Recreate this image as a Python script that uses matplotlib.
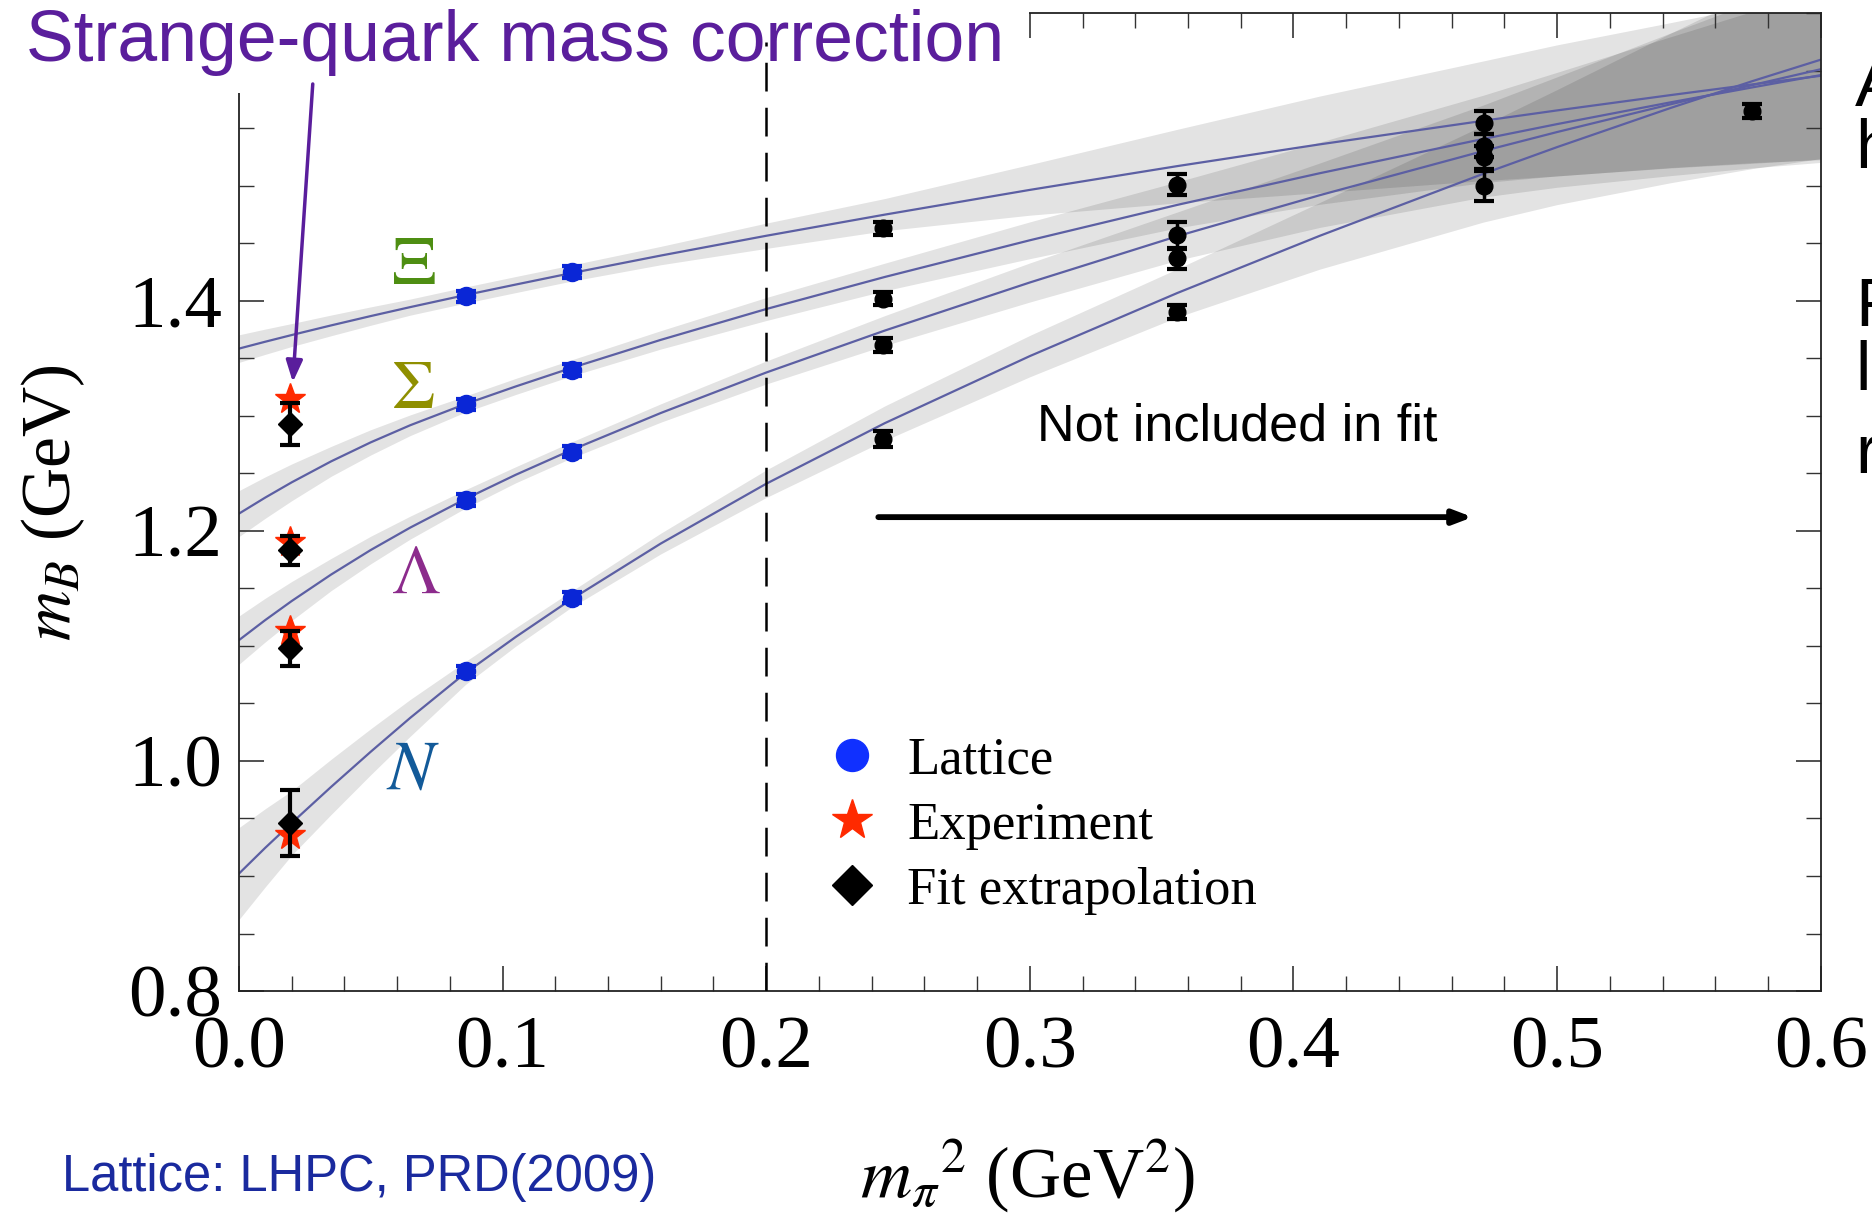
import numpy as np
import matplotlib.pyplot as plt
from matplotlib.lines import Line2D
from matplotlib.patches import Rectangle

# ---- data ----
# lattice points used in the fit (m_pi^2 in GeV^2, masses in GeV)
lat_x = [0.086, 0.1263]
xi_lat = [1.404, 1.425]
sigma_lat = [1.310, 1.340]
lambda_lat = [1.227, 1.269]
n_lat = [1.078, 1.142]
lat_err = [0.005, 0.005]

# heavier lattice points, not included in fit
heavy_x = [0.2445, 0.2445, 0.2445, 0.2445,
           0.356, 0.356, 0.356, 0.356,
           0.4723, 0.4723, 0.4723, 0.4723,
           0.574]
heavy_y = [1.463, 1.402, 1.362, 1.280,
           1.501, 1.457, 1.437, 1.390,
           1.555, 1.535, 1.525, 1.500,
           1.565]
heavy_err = [0.006, 0.006, 0.006, 0.007,
             0.009, 0.012, 0.009, 0.006,
             0.010, 0.010, 0.010, 0.013,
             0.006]

# physical point: experiment vs extrapolation (Xi, Sigma, Lambda, N)
phys_x = 0.0195
exp_y = [1.315, 1.190, 1.113, 0.936]
extrap_y = [1.293, 1.183, 1.098, 0.946]
extrap_err = [0.018, 0.013, 0.015, 0.029]

# fit curves and their error bands (half widths)
fit_x = [0.0, 0.01, 0.02, 0.035, 0.05, 0.065, 0.086, 0.105, 0.126, 0.16,
         0.2, 0.245, 0.3, 0.356, 0.41, 0.472, 0.5, 0.543, 0.574, 0.6]
xi_fit = [1.3585, 1.3645, 1.3703, 1.3787, 1.3868, 1.3946, 1.4051, 1.4142, 1.4241, 1.4394,
          1.4566, 1.4750, 1.4965, 1.5172, 1.5361, 1.5566, 1.5656, 1.5789, 1.5882, 1.5957]
sigma_fit = [1.215, 1.229, 1.2422, 1.2605, 1.277, 1.2919, 1.3104, 1.3256, 1.3416, 1.3661,
             1.3929, 1.4208, 1.4527, 1.4835, 1.511, 1.5408, 1.5537, 1.5726, 1.5856, 1.5963]
lambda_fit = [1.105, 1.1225, 1.139, 1.1621, 1.1834, 1.2029, 1.2279, 1.2488, 1.2702, 1.3025,
              1.3377, 1.3742, 1.416, 1.4563, 1.4919, 1.5303, 1.5468, 1.5709, 1.5876, 1.6014]
n_fit = [0.902, 0.9245, 0.946, 0.9775, 1.008, 1.0375, 1.0766, 1.1078, 1.1404, 1.189,
         1.241, 1.2937, 1.352, 1.4069, 1.4566, 1.5105, 1.5337, 1.5677, 1.591, 1.6097]

xi_band = [0.012, 0.011, 0.010, 0.009, 0.008, 0.007, 0.007, 0.007, 0.007, 0.008,
           0.011, 0.014, 0.022, 0.032, 0.042, 0.052, 0.057, 0.063, 0.068, 0.073]
sigma_band = [0.020, 0.018, 0.016, 0.013, 0.011, 0.009, 0.007, 0.007, 0.007, 0.008,
              0.010, 0.012, 0.016, 0.020, 0.027, 0.038, 0.045, 0.057, 0.066, 0.073]
lambda_band = [0.021, 0.019, 0.017, 0.014, 0.012, 0.010, 0.008, 0.007, 0.007, 0.008,
               0.010, 0.013, 0.017, 0.021, 0.028, 0.040, 0.048, 0.062, 0.072, 0.081]
n_band = [0.040, 0.034, 0.028, 0.024, 0.020, 0.016, 0.010, 0.008, 0.007, 0.009,
          0.012, 0.015, 0.018, 0.021, 0.029, 0.042, 0.050, 0.065, 0.076, 0.086]

serif = 'Liberation Serif'
sans = 'Liberation Sans'
line_col = '#5c5fa3'
plt.rcParams['mathtext.fontset'] = 'stix'

fig = plt.figure(figsize=(18.72, 12.13), dpi=100)
ax = fig.add_axes([0.1276, 0.183, 0.845, 0.806])

fx = np.array(fit_x)
for yy, bb in [(xi_fit, xi_band), (sigma_fit, sigma_band),
               (lambda_fit, lambda_band), (n_fit, n_band)]:
    yy = np.array(yy)
    bb = np.array(bb)
    ax.fill_between(fx, yy - bb, yy + bb, color='black', alpha=0.11, lw=0, zorder=1)
    ax.plot(fx, yy, color=line_col, lw=1.6, zorder=2)

# dashed fit cut (drawn over the title box, as on the slide)
ax.axvline(0.2, ymin=0, ymax=(1.625 - 0.8) / 0.85, color='black', lw=1.8,
           ls=(0, (11.5, 6.5)), zorder=9)

# fit lattice points
for yy in [xi_lat, sigma_lat, lambda_lat, n_lat]:
    ax.errorbar(lat_x, yy, yerr=lat_err, fmt='o', color='#0a26d6', ms=13,
                capsize=7, capthick=3, elinewidth=2.5, zorder=4)

# heavy points
ax.errorbar(heavy_x, heavy_y, yerr=heavy_err, fmt='o', color='black', ms=12,
            capsize=7, capthick=3, elinewidth=2.5, zorder=4)

# experiment and extrapolation
ax.plot([phys_x] * 4, exp_y, ls='none', marker='*', color='#ff2a00', ms=23, zorder=4)
ax.errorbar([phys_x] * 4, extrap_y, yerr=extrap_err, fmt='D', color='black', ms=12.5,
            capsize=7.5, capthick=3, elinewidth=3, zorder=5)

# baryon labels
ax.text(0.066, 1.4315, r'$\Xi$', color='#4e8e12', fontsize=50, ha='center', va='center')
ax.text(0.066, 1.324, r'$\Sigma$', color='#8f8f00', fontsize=50, ha='center', va='center')
ax.text(0.067, 1.163, r'$\Lambda$', color='#8c2b8c', fontsize=50, ha='center', va='center')
ax.text(0.066, 0.993, r'$N$', color='#125a99', fontsize=50, ha='center', va='center')

# not included in fit
ax.text(0.3786, 1.290, 'Not included in fit', fontsize=37.5, family=sans, ha='center', va='center')
ax.annotate('', xy=(0.469, 1.212), xytext=(0.2415, 1.212),
            arrowprops=dict(arrowstyle='-|>,head_length=1.1,head_width=0.42', color='black', lw=4.2))

# strange-quark arrow and title with white box over the frame corner
ax.add_patch(Rectangle((0, 1 - 93 / 1213), 1029 / 1872, 93 / 1213, transform=fig.transFigure,
                       facecolor='white', edgecolor='none', clip_on=False, zorder=8))
ax.text(26 / 1872, 1 - 43 / 1213, 'Strange-quark mass correction', transform=fig.transFigure,
        color='#5a1e9c', fontsize=51.5, family=sans, ha='left', va='center', zorder=9)
ax.annotate('', xy=(0.0204, 1.327), xytext=(0.0281, 1.591),
            arrowprops=dict(arrowstyle='-|>,head_length=1.3,head_width=0.5', color='#5a1e9c', lw=2.5),
            zorder=9, annotation_clip=False)

# legend
handles = [Line2D([], [], ls='none', marker='o', color='#1030ff', ms=23),
           Line2D([], [], ls='none', marker='*', color='#ff2a00', ms=30),
           Line2D([], [], ls='none', marker='D', color='black', ms=20)]
ax.legend(handles, ['Lattice', 'Experiment', 'Fit extrapolation'], loc='upper left',
          bbox_to_anchor=(0.2125, 1.044), bbox_transform=ax.transData, frameon=False,
          prop=dict(family=serif, size=38), handlelength=1.0, handletextpad=0.55,
          labelspacing=0.32, borderpad=0)

ax.set_xlim(0, 0.6)
ax.set_ylim(0.8, 1.65)
ax.set_xticks(np.arange(0, 0.61, 0.1))
ax.set_xticks(np.arange(0, 0.61, 0.02), minor=True)
ax.set_yticks([0.8, 1.0, 1.2, 1.4])
ax.set_yticks(np.arange(0.8, 1.651, 0.05), minor=True)
ax.set_xticklabels(['0.0', '0.1', '0.2', '0.3', '0.4', '0.5', '0.6'])
ax.set_yticklabels(['0.8', '1.0', '1.2', '1.4'])
ax.tick_params(which='both', direction='in', top=True, right=True, colors='#333333')
ax.tick_params(which='major', length=18, width=1.2, labelsize=54, labelcolor='black')
ax.tick_params(which='minor', length=11, width=1.0)
ax.tick_params(axis='x', which='major', pad=18)
ax.tick_params(axis='y', which='major', pad=12)
for lab in ax.get_xticklabels() + ax.get_yticklabels():
    lab.set_family(serif)
for s in ax.spines.values():
    s.set_linewidth(1.3)
    s.set_color('#222222')

ax.set_ylabel(r'$m_B$ (GeV)', fontsize=50, family=serif, labelpad=30)
fig.text(1027 / 1872, 1 - 1176 / 1213, r'$m_\pi{}^2$ (GeV$^2$)', fontsize=51, family=serif,
         ha='center', va='center')
fig.text(62 / 1872, 1 - 1178 / 1213, 'Lattice: LHPC, PRD(2009)', color='#1a2a9e', fontsize=36.5,
         family=sans, ha='left', va='center')

# slide text cut off at the right edge
for letter, ypix in [('A', 88), ('h', 150), ('F', 308), ('l', 372), ('r', 455)]:
    fig.text(1855 / 1872, 1 - ypix / 1213, letter, fontsize=50, family=sans, ha='left', va='center')

fig.savefig('out.png', dpi=100)
